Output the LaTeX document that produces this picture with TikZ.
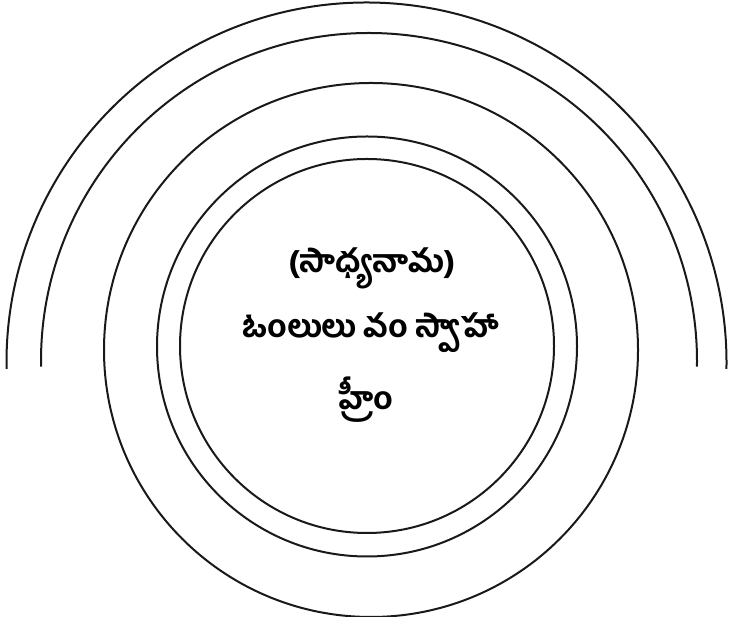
\documentclass[tikz,border=0pt]{standalone}
\usepackage{fontspec}
\usetikzlibrary{calc}
\newfontfamily\telfont[Script=Telugu]{Hind Guntur Bold}
\begin{document}
\begin{tikzpicture}[x=1pt,y=1pt,
  ring/.style={line width=2pt,draw=black!90},
  mantra/.style={font=\telfont\fontsize{31}{36}\selectfont,inner sep=0pt}]
\useasboundingbox (0,0) rectangle (730,617);
% closed circles
\draw[ring] (367,271) circle[radius=187];
\draw[ring] (367,270.5) circle[radius=210];
\draw[ring] (371,267) circle[radius=267];
% open arcs
\coordinate (c4) at (369,256);
\coordinate (c5) at (366.5,254.5);
\draw[ring] ($(c4)+(181:328)$) arc[start angle=181,end angle=-1,radius=328];
\draw[ring] ($(c5)+(181:360)$) arc[start angle=181,end angle=-1,radius=360];
% texts
\node[mantra] (t1) at (372,349) {(సాధ్యనామ)};
\node[mantra] (t2) at (371,284) {ఓంలులు వం స్వాహా};
\node[mantra] (t3) at (366,217) {హ్రీం};
\end{tikzpicture}
\end{document}
